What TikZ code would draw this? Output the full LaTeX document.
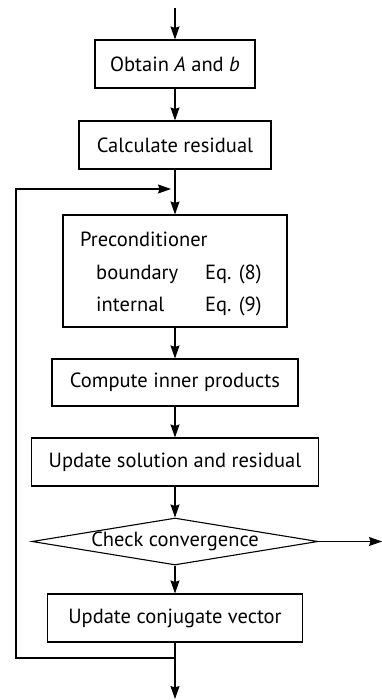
\documentclass[tikz,border=0pt]{standalone}
\usepackage{fontspec}
\setmainfont{PT Sans}
\usetikzlibrary{arrows.meta,shapes.geometric}
\tikzset{
  stepbox/.style={draw, line width=1.1pt, inner sep=0pt, minimum height=48pt},
  arr/.style={line width=1.1pt, -{Stealth[length=13pt,width=9pt,inset=1.5pt]}},
  ln/.style={line width=1.1pt}
}
\begin{document}
\begin{tikzpicture}[x=1pt, y=-1pt, font=\fontsize{20.5}{24}\selectfont]
        \useasboundingbox (0,0) rectangle (382,700);

        \node[stepbox, minimum width=160pt] (obtain) at (175,64) {Obtain \textit{A} and \textit{b}};
        \node[stepbox, minimum width=192pt] (resid) at (175,145) {Calculate residual};
        \node[stepbox, minimum width=224pt, minimum height=112pt] (precond) at (175,271) {};
        \node[anchor=base west, inner sep=0pt] (ptitle) at (80,247) {Preconditioner};
        \node[anchor=base west, inner sep=0pt] (pbound) at (96,279) {boundary};
        \node[anchor=base west, inner sep=0pt] (peq8) at (205,279) {Eq. (8)};
        \node[anchor=base west, inner sep=0pt] (pint) at (96,311) {internal};
        \node[anchor=base west, inner sep=0pt] (peq9) at (205,311) {Eq. (9)};
        \node[stepbox, minimum width=246pt, minimum height=47pt] (inner) at (175,382.5) {Compute inner products};
        \node[stepbox, minimum width=287pt] (update) at (175,462) {Update solution and residual};
        \node[draw, diamond, line width=1.1pt, inner sep=0pt, aspect=6, minimum width=286pt, minimum height=47pt] (check) at (175,541.5) {Check convergence};
        \node[stepbox, minimum width=255pt] (conj) at (175,618) {Update conjugate vector};

        \coordinate (start) at (175,8);
        \coordinate (join) at (175,658);
        \coordinate (finish) at (175,699);
        \coordinate (back) at (171,189);
        \coordinate (exit) at (382,541.5);

        \draw[arr] (start) -- (obtain);
        \draw[arr] (obtain) -- (resid);
        \draw[arr] (resid) -- (precond);
        \draw[arr] (precond) -- (inner);
        \draw[arr] (inner) -- (update);
        \draw[arr] (update) -- (check);
        \draw[arr] (check) -- (conj);
        \draw[arr] (conj) -- (finish);
        \draw[arr] (check.east) -- (exit);
        \draw[arr] (join) -| (16,189) -- (back);
    \end{tikzpicture}
\end{document}
